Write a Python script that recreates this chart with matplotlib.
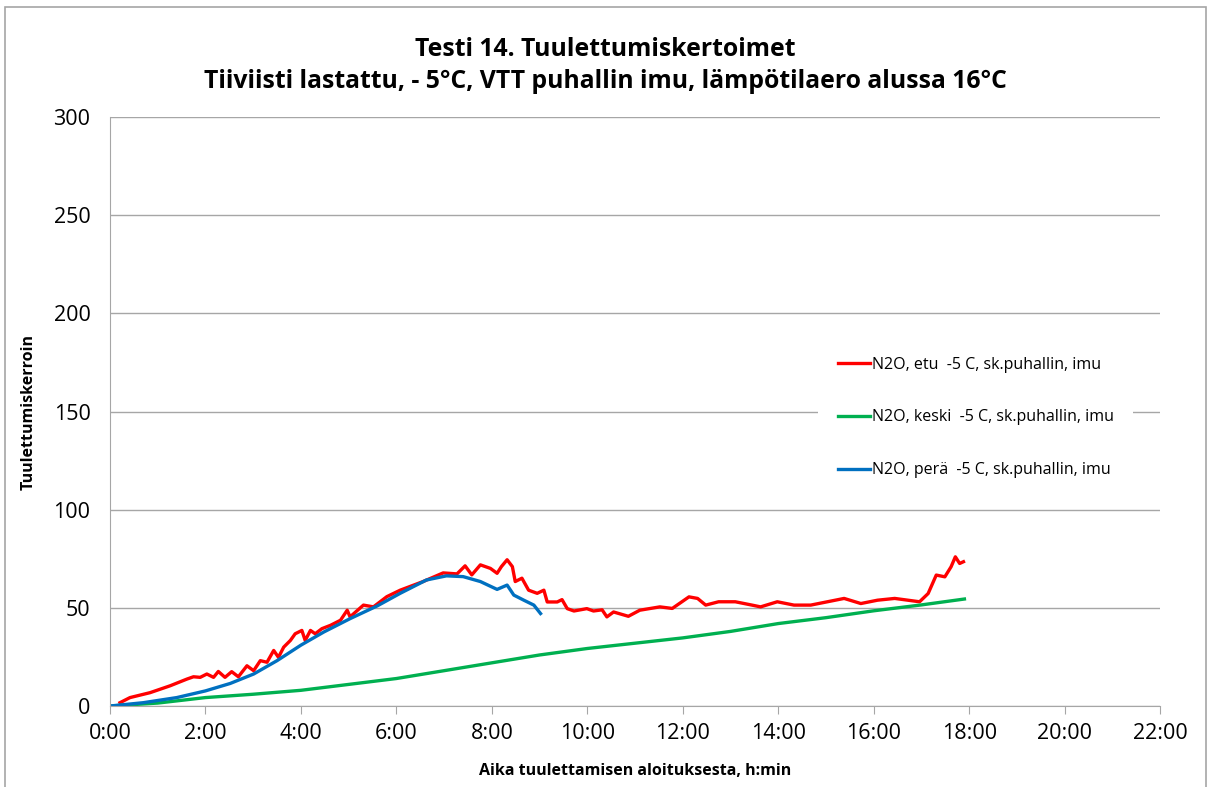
import matplotlib
matplotlib.use("Agg")
import matplotlib.pyplot as plt
from matplotlib.ticker import FuncFormatter, MultipleLocator
from matplotlib.patches import Rectangle

# time in hours from start
red_t = [0.21, 0.42, 0.84, 1.26, 1.61, 1.75, 1.89, 2.03, 2.17, 2.27, 2.41, 2.55, 2.69,
         2.87, 3.01, 3.15, 3.29, 3.43, 3.53, 3.64, 3.78, 3.88, 4.02, 4.09, 4.2, 4.3,
         4.44, 4.62, 4.83, 4.97, 5.03, 5.31, 5.52, 5.8, 6.08, 6.56, 6.98, 7.27, 7.44,
         7.58, 7.76, 7.97, 8.11, 8.2, 8.32, 8.43, 8.49, 8.63, 8.77, 8.95, 9.09, 9.16,
         9.37, 9.47, 9.58, 9.72, 9.99, 10.13, 10.31, 10.41, 10.55, 10.86, 11.1, 11.52,
         11.78, 12.13, 12.31, 12.48, 12.75, 13.1, 13.45, 13.63, 13.98, 14.33, 14.68,
         15.03, 15.38, 15.73, 16.08, 16.44, 16.96, 17.14, 17.31, 17.49, 17.62, 17.71,
         17.8, 17.88]
red_v = [1.7, 4.3, 6.8, 10.3, 13.7, 14.9, 14.6, 16.3, 14.6, 17.6, 14.6, 17.5, 14.9,
         20.5, 18.0, 23.1, 22.3, 28.3, 24.8, 30.0, 33.4, 36.8, 38.5, 33.4, 38.5, 36.8,
         39.4, 41.1, 43.7, 48.8, 45.4, 51.4, 50.5, 55.7, 59.0, 63.4, 67.8, 67.3, 71.4,
         66.8, 71.9, 70.1, 67.6, 71.0, 74.5, 71.0, 63.4, 65.1, 59.0, 57.4, 59.0, 53.0,
         53.0, 54.2, 49.6, 48.4, 49.6, 48.4, 49.0, 45.4, 47.9, 45.7, 48.8, 50.5,
         49.7, 55.6, 54.8, 51.4, 53.1, 53.1, 51.4, 50.5, 53.1, 51.4, 51.4,
         53.1, 54.8, 52.2, 53.9, 54.8, 53.1, 57.3, 66.7, 65.8, 70.9, 76.0,
         72.6, 73.5]

green_t = [0.0, 1.0, 2.0, 3.0, 4.0, 5.0, 6.0, 7.0, 8.0, 9.0, 10.0, 11.0, 12.0,
           13.0, 14.0, 15.0, 16.0, 17.0, 17.9]
green_v = [0.0, 1.5, 4.3, 6.0, 8.0, 11.0, 14.0, 18.0, 22.0, 26.0, 29.3, 32.0, 34.7,
           38.0, 42.0, 45.0, 48.5, 51.5, 54.5]

blue_t = [0.0, 0.7, 1.4, 2.0, 2.52, 3.01, 3.5, 4.0, 4.48, 5.03, 5.6, 6.08, 6.63,
          7.05, 7.4, 7.76, 8.11, 8.32, 8.46, 8.67, 8.88, 9.02]
blue_v = [0.0, 1.7, 4.3, 7.7, 11.5, 16.3, 23.1, 31.0, 37.7, 44.5, 51.0, 57.4, 64.2,
          66.3, 65.9, 63.4, 59.4, 61.6, 56.5, 53.9, 51.4, 47.1]

labels = ["N2O, etu  -5 C, sk.puhallin, imu",
          "N2O, keski  -5 C, sk.puhallin, imu",
          "N2O, perä  -5 C, sk.puhallin, imu"]
colors = ["#FF0000", "#00B050", "#0070C0"]

plt.rcParams["font.family"] = ["Open Sans", "DejaVu Sans"]

fig = plt.figure(figsize=(12.11, 7.87), dpi=100)
fig.patches.append(Rectangle((0.004, -0.01), 0.992, 1.001, transform=fig.transFigure,
                             fill=False, edgecolor="#A6A6A6", linewidth=1.2))
ax = fig.add_axes([0.0908, 0.1029, 0.8672, 0.7484])

for t, v, c, lab in zip([red_t, green_t, blue_t], [red_v, green_v, blue_v], colors, labels):
    ax.plot(t, v, color=c, linewidth=2.4, label=lab)

ax.set_xlim(0, 22)
ax.set_ylim(0, 300)
ax.xaxis.set_major_locator(MultipleLocator(2))
ax.yaxis.set_major_locator(MultipleLocator(50))
ax.xaxis.set_major_formatter(FuncFormatter(lambda x, p: f"{int(x)}:00"))
ax.grid(True, axis="y", color="#A6A6A6", linewidth=1)
ax.set_axisbelow(True)
for s in ["top", "right"]:
    ax.spines[s].set_visible(False)
for s in ["left", "bottom"]:
    ax.spines[s].set_color("#A6A6A6")
ax.tick_params(axis="x", length=6, color="#A6A6A6", labelsize=15.5, pad=6)
ax.tick_params(axis="y", length=0, labelsize=15.5, pad=14)

ax.set_xlabel("Aika tuulettamisen aloituksesta, h:min", fontsize=11.5, fontweight="bold", labelpad=14)
ax.set_ylabel("Tuulettumiskerroin", fontsize=11.5, fontweight="bold", labelpad=12)

fig.text(0.5, 0.937, "Testi 14. Tuulettumiskertoimet", ha="center", va="center",
         fontsize=17.8, fontweight="bold")
fig.text(0.5, 0.896, "Tiiviisti lastattu, - 5°C, VTT puhallin imu, lämpötilaero alussa 16°C",
         ha="center", va="center", fontsize=17.8, fontweight="bold")

leg = ax.legend(loc="center left", bbox_to_anchor=(0.667, 0.49), fontsize=11.5,
                frameon=True, facecolor="white", edgecolor="none", framealpha=1,
                labelspacing=2.3, handlelength=2.0, handletextpad=0.15, borderpad=1.2)

fig.savefig("out.png", dpi=100)
